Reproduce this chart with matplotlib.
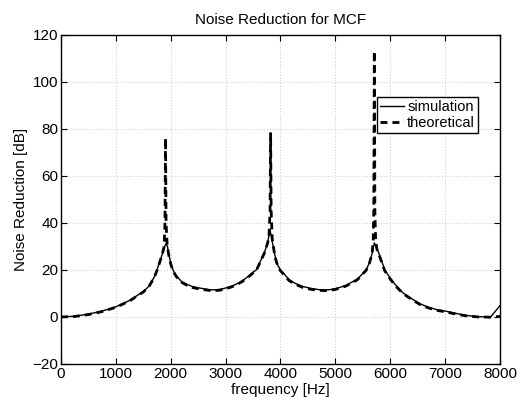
import matplotlib
matplotlib.use("Agg")
import matplotlib.pyplot as plt

# simulation curve
sim_freq = [0, 250, 500, 750, 1000, 1250, 1500, 1600, 1700, 1750, 1800, 1850, 1880,
            1910, 1940, 1970, 2000, 2040, 2100, 2200, 2300, 2400, 2500, 2600, 2700,
            2800, 2900, 3000, 3100, 3200, 3300, 3400, 3500, 3560, 3620, 3700, 3760,
            3810, 3850, 3900, 3950, 4000, 4060, 4150, 4250, 4400, 4540, 4700, 4800,
            4900, 5000, 5100, 5200, 5300, 5400, 5500, 5560, 5620, 5670, 5710, 5760,
            5810, 5900, 6000, 6100, 6235, 6400, 6550, 6700, 6850, 7000, 7200, 7400,
            7600, 7830, 8000]
sim_db = [0.0, 0.3, 1.2, 2.5, 4.3, 7.0, 10.8, 13.0, 17.0, 20.0, 23.5, 27.0, 29.5,
          31.0, 30.0, 26.0, 23.0, 20.0, 17.5, 15.0, 13.8, 12.9, 12.4, 12.0, 11.6,
          11.5, 11.7, 12.3, 13.0, 14.0, 15.3, 17.0, 19.0, 20.0, 23.0, 27.0, 31.0,
          37.0, 32.0, 26.0, 22.0, 20.0, 18.5, 16.0, 14.5, 13.0, 12.2, 11.6, 11.5,
          11.6, 12.0, 12.7, 13.5, 14.8, 16.0, 18.5, 20.0, 23.0, 27.0, 31.5, 29.0,
          26.0, 20.0, 16.5, 13.5, 10.2, 7.6, 5.5, 4.1, 3.1, 2.5, 1.5, 0.6,
          0.1, 0.0, 4.8]

# theoretical curve
theo_freq = [0, 250, 500, 750, 1000, 1250, 1500, 1600, 1700, 1750, 1800, 1850, 1880,
             1895, 1905, 1915, 1935, 1970, 2000, 2040, 2100, 2200, 2300, 2400, 2500,
             2600, 2700, 2800, 2900, 3000, 3100, 3200, 3300, 3400, 3500, 3560, 3620,
             3700, 3760, 3790, 3810, 3820, 3830, 3850, 3900, 3950, 4000, 4060, 4150,
             4250, 4400, 4540, 4700, 4800, 4900, 5000, 5100, 5200, 5300, 5400, 5500,
             5560, 5620, 5670, 5690, 5700, 5710, 5720, 5735, 5760, 5810, 5900, 6000,
             6100, 6235, 6400, 6550, 6700, 6850, 7000, 7200, 7400, 7600, 7830, 8000]
theo_db = [0.0, 0.2, 1.0, 2.3, 4.1, 6.8, 10.6, 12.8, 16.8, 19.8, 23.3, 27.0, 30.0,
           40.0, 76.0, 40.0, 30.5, 25.5, 22.5, 19.6, 17.2, 14.7, 13.4, 12.5, 12.0,
           11.6, 11.3, 11.2, 11.4, 12.0, 12.7, 13.7, 15.0, 16.7, 18.7, 19.8, 22.8,
           26.8, 31.0, 34.0, 45.0, 78.0, 45.0, 33.0, 25.5, 21.6, 19.6, 18.1, 15.6,
           14.1, 12.6, 11.8, 11.3, 11.2, 11.3, 11.7, 12.4, 13.2, 14.5, 15.8, 18.3,
           19.8, 22.8, 27.0, 33.0, 45.0, 113.0, 45.0, 32.0, 28.5, 25.5, 19.6, 16.1,
           13.1, 9.9, 7.3, 5.2, 3.8, 2.8, 2.2, 1.2, 0.4, 0.0, -0.1, 0.2]

x_ticks = [0, 1000, 2000, 3000, 4000, 5000, 6000, 7000, 8000]
y_ticks = [-20, 0, 20, 40, 60, 80, 100, 120]

plt.rcParams['font.family'] = ['Liberation Sans', 'DejaVu Sans']
plt.rcParams['font.size'] = 11

fig = plt.figure(figsize=(5.23, 4.01), dpi=100)
ax = fig.add_axes([0.1166, 0.0923, 0.8394, 0.8212])

ax.plot(sim_freq, sim_db, color='black', linewidth=1.0, label='simulation')
ax.plot(theo_freq, theo_db, color='black', linewidth=2.0, linestyle=(0, (2.5, 1.8)),
        label='theoretical')

ax.set_xlim(0, 8000)
ax.set_ylim(-20, 120)
ax.set_xticks(x_ticks)
ax.set_yticks(y_ticks)
ax.set_yticklabels(['\u221220' if v < 0 else str(v) for v in y_ticks])

ax.grid(True, color='#999999', linestyle=(0, (1, 3)), linewidth=0.5)
ax.tick_params(direction='in', top=True, right=True, length=4, width=0.8,
               pad=2, labelsize=11)
for sp in ax.spines.values():
    sp.set_linewidth(1.0)
    sp.set_color('black')

ax.set_title('Noise Reduction for MCF', fontsize=11, pad=8)
ax.set_xlabel('frequency [Hz]', fontsize=11, labelpad=1.5)
ax.set_ylabel('Noise Reduction [dB]', fontsize=11, labelpad=3)

leg = ax.legend(loc='upper right', bbox_to_anchor=(0.95, 0.811), borderaxespad=0,
                fancybox=False, framealpha=1, edgecolor='black', fontsize=10.5,
                handlelength=1.6, handletextpad=0.25, borderpad=0.2,
                labelspacing=0.15)
leg.get_frame().set_linewidth(1.0)

fig.savefig('out.png', dpi=100)
